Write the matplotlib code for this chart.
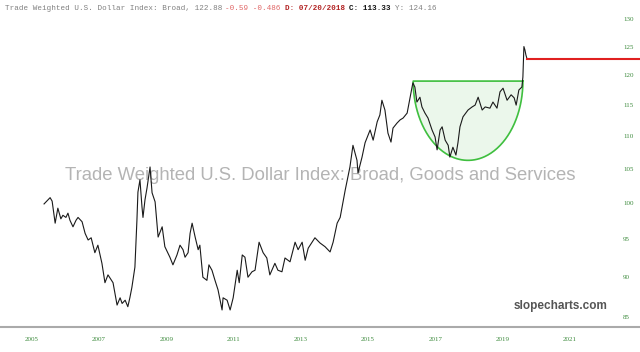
"""Trade Weighted U.S. Dollar Index: Broad -- cup pattern chart (slopecharts style)."""
import matplotlib
matplotlib.use("Agg")
import matplotlib.pyplot as plt
import numpy as np

# index values (decimal year, index level)
years = [2005.37, 2005.49, 2005.55, 2005.61, 2005.70, 2005.78, 2005.87, 2005.93,
         2006.02, 2006.08, 2006.14, 2006.23, 2006.32, 2006.38, 2006.50, 2006.59, 2006.68, 2006.77, 2006.88, 2006.97,
         2007.09, 2007.18, 2007.27, 2007.33, 2007.42, 2007.54, 2007.63, 2007.69, 2007.78, 2007.86, 2007.92, 2007.98,
         2008.07, 2008.13, 2008.16, 2008.22, 2008.28, 2008.31, 2008.37, 2008.43, 2008.52, 2008.58, 2008.67, 2008.76,
         2008.88, 2008.96,
         2009.11, 2009.20, 2009.32, 2009.41, 2009.50, 2009.56, 2009.65, 2009.71, 2009.77, 2009.86, 2009.95,
         2010.00, 2010.09, 2010.21, 2010.27, 2010.36, 2010.45, 2010.54, 2010.66, 2010.69, 2010.81, 2010.90, 2010.99,
         2011.11, 2011.17, 2011.26, 2011.34, 2011.43, 2011.55, 2011.64, 2011.76, 2011.88, 2011.99,
         2012.08, 2012.23, 2012.32, 2012.44, 2012.53, 2012.68, 2012.83, 2012.92,
         2013.04, 2013.13, 2013.22, 2013.42, 2013.57, 2013.72, 2013.87, 2013.96,
         2014.08, 2014.17, 2014.32, 2014.46, 2014.55, 2014.67, 2014.70, 2014.82, 2014.91,
         2015.06, 2015.15, 2015.27, 2015.35, 2015.41, 2015.50, 2015.59, 2015.68, 2015.74, 2015.86, 2015.95,
         2016.04, 2016.16, 2016.25, 2016.33, 2016.39, 2016.45, 2016.54, 2016.60, 2016.69, 2016.78, 2016.90, 2016.99,
         2017.05, 2017.14, 2017.20, 2017.29, 2017.38, 2017.43, 2017.52, 2017.61, 2017.67, 2017.73, 2017.82, 2017.97,
         2018.09, 2018.18, 2018.27, 2018.39, 2018.48, 2018.62, 2018.71, 2018.83, 2018.92,
         2019.01, 2019.13, 2019.25, 2019.34, 2019.40, 2019.48, 2019.57, 2019.60, 2019.63, 2019.66, 2019.69, 2019.72]
values = [99.9, 100.5, 100.8, 100.3, 97.2, 99.3, 97.8, 98.3,
          98.0, 98.6, 97.6, 96.7, 97.6, 98.0, 97.4, 95.8, 94.9, 95.2, 93.2, 94.2,
          91.8, 89.3, 90.3, 89.9, 89.3, 86.5, 87.4, 86.7, 87.1, 86.3, 87.4, 88.7,
          91.3, 97.6, 101.6, 103.4, 99.5, 98.0, 100.5, 102.2, 105.3, 101.5, 100.2, 95.3, 96.7, 94.0,
          92.6, 91.6, 92.9, 94.2, 93.6, 92.6, 93.2, 95.8, 97.2, 95.3, 93.6,
          94.2, 90.0, 89.6, 91.6, 90.9, 89.6, 88.4, 85.9, 87.4, 87.1, 85.9, 87.4,
          90.9, 89.3, 92.9, 92.6, 90.0, 90.7, 90.9, 94.6, 93.2, 92.5,
          90.3, 91.8, 90.9, 90.7, 92.5, 92.0, 94.6, 93.6,
          94.6, 92.2, 93.8, 95.2, 94.5, 94.0, 93.3, 94.6,
          97.2, 98.0, 101.9, 105.3, 108.6, 106.3, 104.4, 106.8, 109.0,
          111.0, 109.4, 112.3, 113.4, 115.8, 114.2, 110.5, 109.1, 111.3, 112.1, 112.6,
          112.9, 113.7, 116.3, 118.7, 118.0, 115.5, 116.3, 114.7, 113.7, 112.9, 111.0, 109.9,
          107.9, 111.0, 111.5, 109.4, 108.6, 106.8, 108.3, 107.1, 109.0, 111.5, 113.1, 114.2,
          114.7, 115.0, 116.3, 114.2, 114.7, 114.5, 115.5, 114.5, 117.2,
          117.8, 115.8, 116.7, 116.2, 115.0, 117.5, 118.0, 119.7, 125.0, 124.4, 123.5, 122.9]

# cup drawing (left/right edge in years, rim and bottom level)
cup_left, cup_right = 2016.34, 2019.60
cup_rim, cup_bottom = 119.0, 106.3

last_value = 122.88
last_start = 2019.72

y_ticks = [85, 90, 95, 100, 105, 110, 115, 120, 125, 130]
x_ticks = [2005, 2007, 2009, 2011, 2013, 2015, 2017, 2019, 2021]

GREEN_TXT = "#3d8b3d"


def main() -> None:
    fig = plt.figure(figsize=(6.4, 3.52), dpi=100)
    ax = fig.add_axes([0, 25 / 352, 1, 327 / 352])
    ax.set_yscale("log")
    ax.set_xlim(2004.061, 2023.08)
    ax.set_ylim(83.84, 133.57)

    # watermark
    ax.text(0.5, (327 - 175) / 327, "Trade Weighted U.S. Dollar Index: Broad, Goods and Services",
            transform=ax.transAxes, ha="center", va="center", fontsize=13.3,
            family="Liberation Sans", color="#b4b4b4", zorder=0)

    # cup
    t = np.linspace(0, np.pi, 200)
    cx = (cup_left + cup_right) / 2
    a = (cup_right - cup_left) / 2
    lr, lb = np.log(cup_rim), np.log(cup_bottom)
    cup_x = cx + a * np.cos(t)
    cup_y = np.exp(lr - (lr - lb) * np.sin(t))
    ax.fill(cup_x, cup_y, color="#ebf7eb", zorder=1)
    ax.plot(np.append(cup_x, cup_x[0]), np.append(cup_y, cup_y[0]),
            color="#3fbf3f", linewidth=1.2, zorder=2)

    ax.plot(years, values, color="#1a1a1a", linewidth=0.8, zorder=3)
    ax.plot([last_start, 2023.08], [last_value, last_value], color="#e02020",
            linewidth=1.5, zorder=3)

    ax.set_yticks(y_ticks)
    ax.set_yticklabels([str(v) for v in y_ticks])
    ax.yaxis.set_minor_locator(matplotlib.ticker.NullLocator())
    ax.set_xticks(x_ticks)
    ax.set_xticklabels([str(v) for v in x_ticks])
    ax.tick_params(axis="y", left=False, labelleft=False, right=True, labelright=True,
                   length=0, pad=-12.2, labelsize=5, labelcolor=GREEN_TXT)
    ax.tick_params(axis="x", length=0, pad=7, labelsize=5, labelcolor=GREEN_TXT)
    for lab in ax.get_xticklabels() + ax.get_yticklabels():
        lab.set_family("Liberation Serif")
    for s in ("top", "left", "right"):
        ax.spines[s].set_visible(False)
    ax.spines["bottom"].set_color("#aaaaaa")
    ax.spines["bottom"].set_linewidth(1.5)

    # header line, monospace pieces
    parts = [("Trade Weighted U.S. Dollar Index: Broad, 122.88 ", "#808080", "normal"),
             ("-0.59 -0.486 ", "#e06666", "normal"),
             ("D: 07/20/2018 ", "#b22222", "bold"),
             ("C: 113.33 ", "#111111", "bold"),
             ("Y: 124.16", "#808080", "normal")]
    fs = 5.5
    char_w = 0.6 * fs * 100 / 72 / 640
    x0 = 5 / 640
    for txt, col, wt in parts:
        fig.text(x0, 1 - 8 / 352, txt, ha="left", va="center", fontsize=fs,
                 family="Liberation Mono", color=col, weight=wt)
        x0 += len(txt) * char_w

    fig.text(607 / 640, 1 - 306 / 352, "slopecharts.com", ha="right", va="center",
             fontsize=8.5, family="Liberation Sans", weight="bold", color="#555555")

    fig.savefig("out.png", dpi=100)


if __name__ == "__main__":
    main()
